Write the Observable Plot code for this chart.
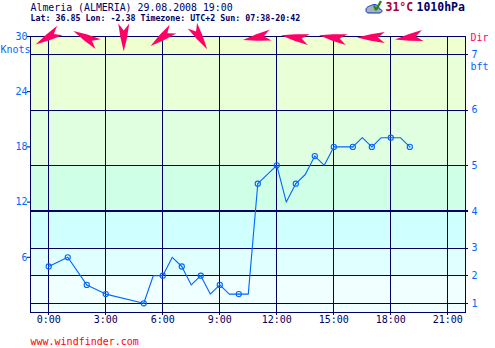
<!DOCTYPE html>
<html>
<head>
<meta charset="utf-8">
<script src="https://cdn.jsdelivr.net/npm/d3@7"></script>
<script src="https://cdn.jsdelivr.net/npm/@observablehq/plot@0.6"></script>
<style>html,body{margin:0;padding:0;background:#fff}svg{display:block}</style>
</head>
<body>
<div id="chart"></div>
<script>
const lineHours = [0,1,2,3,5,5.5,6,6.5,7,7.5,8,8.5,9,9.5,10,10.5,11,12,12.5,13,13.5,14,14.5,15,16,16.5,17,17.5,18,18.5,19];
const lineKnots = [5,6,3,2,1,4,4,6,5,3,4,2,3,2,2,2,14,16,12,14,15,17,16,18,18,19,18,19,19,19,18];
const markerHours = [0,1,2,3,5,6,7,8,9,10,11,12,13,14,15,16,17,18,19];
const markerKnots = [5,6,3,2,1,4,5,4,3,2,14,16,14,17,18,18,18,19,18];
const dirHours = [0,2,4,6,8,11,13,15,17,19];
const dirBearing = [240,298,180,233,148,260,279,279,270,262];
const bftLimits = [0,1,4,7,11,16,22,28,30];
const bftColors = ["#f0ffff","#f0ffff","#e0ffff","#d0ffff","#d0ffe8","#e0ffe0","#e8ffd8","#f0ffd0"];
const bftLabels = [1,2,3,4,5,6,7];
const knotTicks = [6,12,18,24,30];
const timeTicks = [0,3,6,9,12,15,18,21];

const NAVY = "#000066", BLUE = "#0066ff", PINK = "#ff0066";
const bands = bftColors.map((c,i)=>({y1:bftLimits[i],y2:bftLimits[i+1],c}));
const lines = bftLabels.map((b,i)=>({b,k:bftLimits[i+1]}));
const dirs = dirHours.map((h,i)=>({h,a:dirBearing[i]}));
const pts = lineHours.map((h,i)=>({h,k:lineKnots[i]}));
const markers = markerHours.map((h,i)=>({h,k:markerKnots[i]}));

const arrowShape = {draw(ctx,l,r){
  ctx.moveTo(0,-l);
  ctx.lineTo(r*0.6,-l*0.5);
  ctx.lineTo(r,0);
  ctx.lineTo(0,-l*0.25);
  ctx.lineTo(-r,0);
  ctx.lineTo(-r*0.6,-l*0.5);
  ctx.closePath();
}};
const label = (t,px,py,o={}) => Plot.text([t],{text:d=>d,frameAnchor:"top-left",dx:px-30,dy:py-36,textAnchor:"start",lineAnchor:"middle",fontSize:10,fill:NAVY,...o});
const cloud = {draw(c){c.moveTo(-8,1);c.bezierCurveTo(-8,-3,-3,-3,-2,-4);c.bezierCurveTo(2,-6,6,-2,5,0);c.bezierCurveTo(9,0,9,4,5,4);c.lineTo(-5,4);c.bezierCurveTo(-8,4,-8,2,-8,1);c.closePath();}};
const check = {draw(c){c.moveTo(-3.5,0.5);c.lineTo(-1.5,-0.5);c.lineTo(-0.5,2);c.lineTo(3.5,-5);c.lineTo(5.5,-4);c.lineTo(0.5,5);c.lineTo(-1.5,5);c.closePath();}};

const chart = Plot.plot({
  width:495,height:348,
  marginLeft:30,marginRight:30,marginTop:36,marginBottom:36,
  x:{domain:[-0.96,21.93],axis:null},
  y:{domain:[0,30],axis:null},
  style:{fontFamily:"'DejaVu Sans Mono',monospace",background:"#fff",overflow:"visible"},
  marks:[
    Plot.rectY(bands,{x1:()=>-0.96,x2:()=>21.93,y1:"y1",y2:"y2",fill:d=>d.c}),
    Plot.ruleX(timeTicks,{stroke:NAVY,strokeWidth:1,insetBottom:-3,shapeRendering:"crispEdges"}),
    Plot.ruleY(lines,{y:"k",stroke:NAVY,strokeWidth:d=>d.k===11?2:1,insetRight:-3,shapeRendering:"crispEdges"}),
    Plot.frame({stroke:NAVY,strokeWidth:1,shapeRendering:"crispEdges"}),
    Plot.line(pts,{x:"h",y:"k",stroke:BLUE,strokeWidth:1.1,curve:"linear"}),
    Plot.dot(markers,{x:"h",y:"k",r:2.6,stroke:BLUE,strokeWidth:1.1,fill:"none"}),
    Plot.dot(markers,{x:"h",y:"k",r:0.6,fill:BLUE}),
    Plot.vector(dirs,{x:"h",y:()=>30,rotate:"a",length:28,anchor:"middle",shape:arrowShape,r:5.5,fill:PINK,stroke:"none",dx:-1,dy:1}),
    Plot.axisX({ticks:timeTicks,tickFormat:d=>d+":00",tickSize:0,tickPadding:3,anchor:"bottom",fontSize:10,fill:NAVY,label:null}),
    Plot.axisY({ticks:knotTicks,anchor:"left",tickSize:3,tickPadding:0,fontSize:10,fill:BLUE,stroke:NAVY,label:null}),
    Plot.axisY({ticks:bftLabels.map((b,i)=>bftLimits[i+1]),tickFormat:k=>lines.find(l=>l.k===k).b,anchor:"right",tickSize:0,tickPadding:6,fontSize:10,fill:BLUE,label:null}),
    label("Knots",0,49,{fill:BLUE}),
    label("Dir",470,37,{fill:PINK}),
    label("bft",470,66,{fill:BLUE}),
    label("Almeria (ALMERIA) 29.08.2008 19:00",30,7,{fontSize:9.9}),
    label("Lat: 36.85 Lon: -2.38 Timezone: UTC+2 Sun: 07:38-20:42",30,18,{fontSize:8.3,fontWeight:"bold"}),
    label("31°C",385,7,{fontSize:11.5,fontWeight:"bold",fill:"#aa0033"}),
    label("1010hPa",416,7,{fontSize:11.5,fontWeight:"bold"}),
    label("www.windfinder.com",30,341,{fill:"#ff0000"}),
    Plot.dot([0],{frameAnchor:"top-left",dx:343.5,dy:-27.5,symbol:cloud,r:4.5,fill:"#a8b0b8",stroke:"#0033cc",strokeWidth:1}),
    Plot.dot([0],{frameAnchor:"top-left",dx:346,dy:-31,symbol:check,r:4.5,fill:"#228822",stroke:"none"})
  ]
});
document.getElementById("chart").append(chart);
</script>
</body>
</html>
